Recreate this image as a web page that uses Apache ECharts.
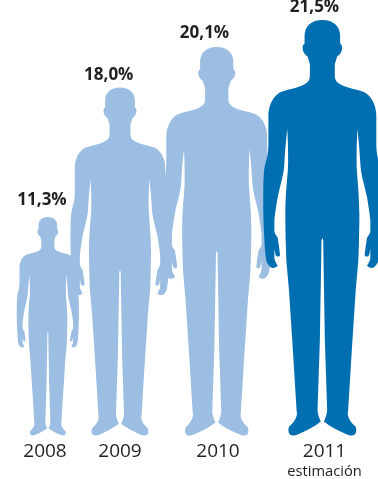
<!DOCTYPE html>
<html><head><meta charset="utf-8">
<style>html,body{margin:0;padding:0;background:#fff}#c{width:378px;height:479px}</style>
<script src="https://cdn.jsdelivr.net/npm/echarts@6/dist/echarts.min.js"></script>
</head><body><div id="c"></div>
<script>
const years = ['2008','2009','2010','2011'];
const shares = [11.3,18.0,20.1,21.5];
const subLabel = 'estimación';

// layout, separate from data
const LIGHT='#9bbee2', DARK='#006fb2', INK='#231f20';
const figureOffset=[0.6,-21.75,-19.5,-8.4];
const valueLabelOffset=[[-5.25,-4],[-33,0],[-31.75,-1],[-16.25,0]];
const yearShift=[-2.25,-21.75,-18.25,-6.25];
const widthPerUnit=5.5;

// half silhouette (top of head -> crotch), mirrored to give the whole figure
const start=[187.5,57];
const half=[
[155,57,134,75,134,105],[134,128],[124,135,126,155,143,167],[150,190],[150,225],
[150,245,135,252,110,260],[90,266,65,270,55,278],[35,292,25,320,25,345],[25,430],
[25,470,15,485,12,510],[10,540],[9,600,9,650,13,720],[14,745,16,770,20,785],
[25,795,30,802,38,803],[45,803,50,800,53,796],[48,788,43,780,43,770],[43,745],
[45,758,47,768,50,768],[54,770,60,768,60,763],[58,745,55,725,53,712],[48,705,43,700,43,690],
[43,660],[46,630,50,610,53,590],[62,550,72,520,73,490],[75,450,78,420,82,385],
[84,430,85,470,84,500],[82,540,77,570,76,640],[76,680,77,700,77,720],[79,780],[87,870],
[100,1070],[110,1233],[115,1250,100,1270,90,1278],[84,1283,84,1295,88,1302],
[93,1310,105,1307,115,1303],[135,1295,165,1280,183,1265],[180,1260,173,1240,173,1230],
[180,1020],[185,720],[187.5,712]];
function silhouette(){
  let d='M'+start.join(' ');
  half.forEach(s=>{d+=(s.length===2?'L':'C')+s.join(' ');});
  const m=x=>375-x;
  for(let i=half.length-1;i>=0;i--){
    const s=half[i];
    const prev=i===0?start:half[i-1].slice(-2);
    if(s.length===2) d+='L'+m(prev[0])+' '+prev[1];
    else d+='C'+m(s[2])+' '+s[3]+' '+m(s[0])+' '+s[1]+' '+m(prev[0])+' '+prev[1];
  }
  return 'path://'+d+'Z';
}
const symbol=silhouette();
const fmt=v=>v.toFixed(1).replace('.',',')+'%';

const chart=echarts.init(document.getElementById('c'),null,{renderer:'canvas'});
chart.setOption({
  animation:false,
  grid:{left:0,right:0,top:0,bottom:42},
  xAxis:{type:'category',
    data:years.map((y,i)=>({value:y,textStyle:{padding:[0,-2*yearShift[i],0,0]}})),
    axisLine:{show:false},axisTick:{show:false},
    axisLabel:{interval:0,margin:6,hideOverlap:false,color:INK,
      fontFamily:'"Open Sans"',
      formatter:(v,i)=>i===years.length-1?'{y|'+v+'}\n{e|'+subLabel+'}':'{y|'+v+'}',
      rich:{y:{fontSize:19,lineHeight:20,color:INK,fontFamily:'"Open Sans"'},
            e:{fontSize:14.7,lineHeight:20,color:INK,fontFamily:'"Open Sans"'}}}},
  yAxis:{type:'value',min:0,max:22.53,show:false},
  series:[{
    type:'pictorialBar',symbol:symbol,symbolPosition:'start',
    data:shares.map((v,i)=>({
      value:v,
      symbolSize:[v*widthPerUnit,'100%'],
      symbolOffset:[figureOffset[i],0],
      itemStyle:{color:i===shares.length-1?DARK:LIGHT},
      label:{show:true,position:'top',distance:4,offset:valueLabelOffset[i],
        formatter:fmt(v),fontSize:17,fontWeight:'bold',color:INK,fontFamily:'"Open Sans"'}
    }))
  }]
});
</script></body></html>
